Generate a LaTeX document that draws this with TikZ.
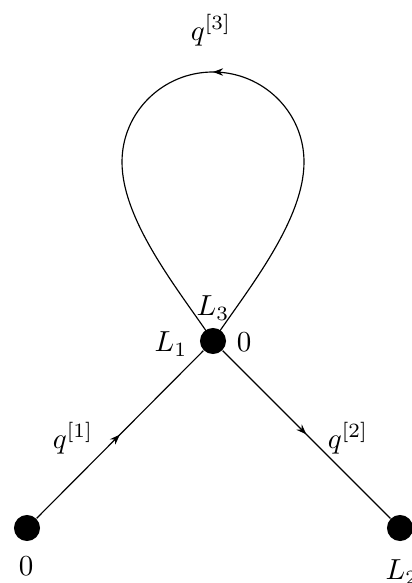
\documentclass[tikz,border=0pt]{standalone}
\usetikzlibrary{decorations.markings,arrows.meta}
\begin{document}
\begin{tikzpicture}[x=0.345pt,y=-0.345pt,
  vertex/.style={circle,fill,inner sep=0pt,minimum size=9pt},
  lbl/.style={inner sep=1pt},
  midarrow/.style={postaction={decorate},decoration={markings,mark=at position 0.5 with {\arrow{Stealth[length=3.5pt,width=2.6pt]}}}}]
\useasboundingbox (0,0) rectangle (411,583);
\node[vertex] (c) at (213,341) {};
\node[vertex] (a) at (27,528) {};
\node[vertex] (b) at (400,528) {};
\coordinate (lr) at (304,162);
\coordinate (lt) at (213,72);
\coordinate (ll) at (122,162);
\draw[midarrow] (a) -- (c);
\draw[midarrow] (c) -- (b);
\draw[midarrow] (c.center) .. controls (245,293) and (304,222) .. (lr)
  .. controls (304,112) and (263,72) .. (lt)
  .. controls (163,72) and (122,112) .. (ll)
  .. controls (122,222) and (181,293) .. (c.center);
\node[lbl] (l0) at (26,566) {$0$};
\node[lbl] (l2) at (402,572) {$L_2$};
\node[lbl] (l1) at (171,344) {$L_1$};
\node[lbl] (l3) at (213,308) {$L_3$};
\node[lbl] (r0) at (244,342) {$0$};
\node[lbl] (q1) at (73,438) {$q^{[1]}$};
\node[lbl] (q2) at (348,438) {$q^{[2]}$};
\node[lbl] (q3) at (211,30) {$q^{[3]}$};
\end{tikzpicture}
\end{document}
